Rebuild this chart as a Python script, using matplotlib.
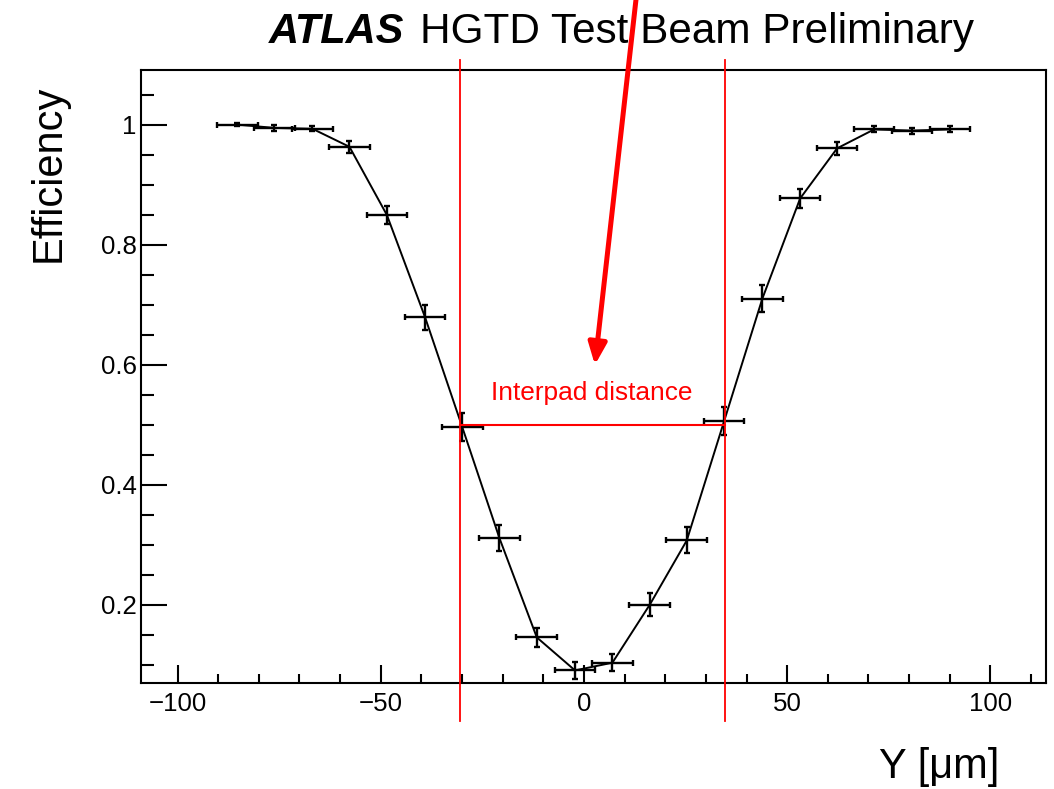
import numpy as np
import matplotlib
matplotlib.use('Agg')
import matplotlib.pyplot as plt
from matplotlib.ticker import MultipleLocator

#################################data#################################

pos_y = [-85.3, -76.2, -66.8, -57.7, -48.5, -39.1, -29.95, -20.8, -11.6, -2.2,
         7.0, 16.2, 25.3, 34.5, 43.9, 53.2, 62.3, 71.4, 80.7, 90.1]
efficiency = [1.000, 0.9945, 0.993, 0.963, 0.8495, 0.679, 0.496, 0.311, 0.1455, 0.0905,
              0.1033, 0.200, 0.307, 0.506, 0.710, 0.877, 0.9605, 0.992, 0.990, 0.992]
eff_err = [0.003, 0.0045, 0.004, 0.0097, 0.0155, 0.021, 0.023, 0.021, 0.016, 0.014,
           0.0145, 0.0195, 0.0217, 0.024, 0.022, 0.0155, 0.011, 0.005, 0.005, 0.005]
pos_err = [5.0] * len(pos_y)

pad_edges = [-30.5, 34.7]
half_eff = 0.5

x_ticks = [-100, -50, 0, 50, 100]
y_ticks = [0.2, 0.4, 0.6, 0.8, 1]
y_tick_labels = ['0.2', '0.4', '0.6', '0.8', '1']

title_bold = 'ATLAS'
title_rest = 'HGTD Test Beam Preliminary'
note_text = 'Interpad distance'

#################################figure setup#################################

plt.rcParams['font.family'] = ['Liberation Sans', 'DejaVu Sans']
plt.rcParams['axes.unicode_minus'] = True

fig = plt.figure(figsize=(10.54, 7.89), dpi=100)
ax = fig.add_axes([141 / 1054, 1 - 683 / 789, 905 / 1054, 613 / 789])

ax.set_xlim(-109.0, 113.7)
ax.set_ylim(0.0695, 1.091)

for s in ax.spines.values():
    s.set_linewidth(1.5)

ax.set_xticks(x_ticks)
ax.set_xticklabels(['\u2212100', '\u221250', '0', '50', '100'])
ax.set_yticks(y_ticks)
ax.set_yticklabels(y_tick_labels)
ax.xaxis.set_minor_locator(MultipleLocator(10))
ax.yaxis.set_minor_locator(MultipleLocator(0.05))
ax.tick_params(axis='x', which='major', direction='in', length=13, width=1.5, pad=6.5, labelsize=18.6)
ax.tick_params(axis='x', which='minor', direction='in', length=6.5, width=1.5)
ax.tick_params(axis='y', which='major', direction='in', length=19, width=1.5, pad=3, labelsize=18.6)
ax.tick_params(axis='y', which='minor', direction='in', length=9.5, width=1.5)

#################################data points#################################

ax.plot(pos_y, efficiency, color='black', lw=1.4, zorder=3)
ax.errorbar(pos_y, efficiency, xerr=pos_err, yerr=eff_err, fmt='none', ecolor='black',
            elinewidth=1.7, capsize=2.4, capthick=1.7, zorder=4)

#################################red markers#################################

for xe in pad_edges:
    ax.plot([xe, xe], [0.006, 1.108], color='red', lw=1.3, clip_on=False, zorder=5)
ax.plot(pad_edges, [half_eff, half_eff], color='red', lw=1.5, zorder=5)

ax.text(np.mean(pad_edges) - 0.3, 0.553, note_text, color='red', fontsize=18.9,
        ha='center', va='center')

ax.annotate('', xy=(2.7, 0.5995), xytext=(12.8, 1.208), xycoords='data',
            annotation_clip=False, zorder=10,
            arrowprops=dict(arrowstyle='-|>,head_length=1.3,head_width=0.55', color='red',
                            lw=3.6, shrinkA=0, shrinkB=0, mutation_scale=10))

#################################titles#################################

fig.text(269 / 1054, 1 - 43 / 789, title_bold, fontsize=30, fontweight='bold',
         fontstyle='italic', ha='left', va='baseline')
fig.text(420 / 1054, 1 - 43 / 789, title_rest, fontsize=30.4, ha='left', va='baseline')

fig.text(49 / 1054, 1 - 85 / 789, 'Efficiency', fontsize=30, rotation=90, ha='center', va='top')
fig.text(999 / 1054, 1 - 778 / 789, 'Y [\u03bcm]', fontsize=30, ha='right', va='baseline')

fig.savefig('out.png', dpi=100)
